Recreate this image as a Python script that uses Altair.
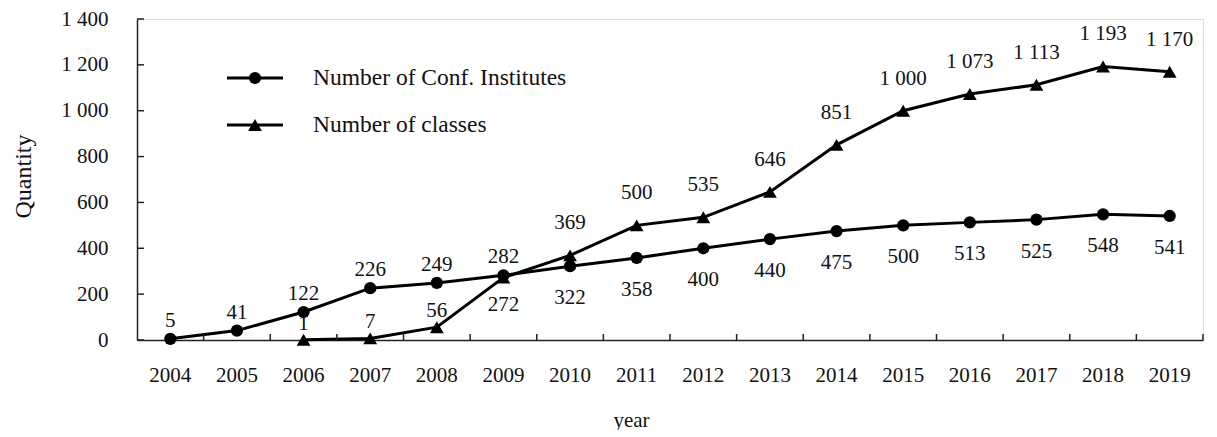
import altair as alt
import pandas as pd

years = [str(y) for y in range(2004, 2020)]
institutes = [5, 41, 122, 226, 249, 282, 322, 358, 400, 440, 475, 500, 513, 525, 548, 541]
class_years = [str(y) for y in range(2006, 2020)]
classes = [1, 7, 56, 272, 369, 500, 535, 646, 851, 1000, 1073, 1113, 1193, 1170]
series_names = ["Number of Conf. Institutes", "Number of classes"]
y_ticks = [0, 200, 400, 600, 800, 1000, 1200, 1400]

rows = [{"year": y, "series": series_names[0], "value": v} for y, v in zip(years, institutes)]
rows += [{"year": y, "series": series_names[1], "value": v} for y, v in zip(class_years, classes)]
df = pd.DataFrame(rows)
df["yr"] = df["year"].astype(int)

FONT = "Liberation Serif"
FS = 21
W, H = 1066, 321

xscale = alt.Scale(type="band", domain=years, paddingInner=0, paddingOuter=0)
yscale = alt.Scale(domain=[0, 1400], nice=False, zero=True)

x_axis = alt.Axis(title="year", ticks=False, grid=False, labelAngle=0, labelPadding=24,
                  labelFont=FONT, labelFontSize=FS, labelColor="#111",
                  domainColor="#222", domainWidth=1.5,
                  titleFont=FONT, titleFontSize=FS, titleFontWeight="normal", titleColor="#111",
                  titleX=494, titleY=80, titleBaseline="middle")
y_axis = alt.Axis(values=y_ticks, title="Quantity", ticks=False, grid=False, labelPadding=29,
                  labelExpr="replace(format(datum.value, ','), ',', ' ')",
                  labelFont=FONT, labelFontSize=FS, labelColor="#111",
                  domainColor="#222", domainWidth=1.5,
                  titleFont=FONT, titleFontSize=24, titleFontWeight="normal", titleColor="#111",
                  titleX=-114, titleY=157, titleBaseline="middle")

x_main = alt.X("year:O", scale=xscale, bandPosition=0.5, axis=x_axis)
x_plain = alt.X("year:O", scale=xscale, bandPosition=0.5)
y_main = alt.Y("value:Q", scale=yscale, axis=y_axis)
y_plain = alt.Y("value:Q", scale=yscale)

base = alt.Chart(df)

lines = base.mark_line(color="black", strokeWidth=3).encode(x=x_main, y=y_main, detail="series:N")

points = base.mark_point(filled=True, opacity=1, color="black").encode(
    x=x_plain, y=y_plain,
    shape=alt.Shape("series:N", scale=alt.Scale(domain=series_names, range=["circle", "triangle-up"]), legend=None),
    size=alt.Size("series:N", scale=alt.Scale(domain=series_names, range=[150, 190]), legend=None),
)

lab = base.transform_calculate(label="replace(format(datum.value, ','), ',', ' ')")


def labels(filter_expr, dy):
    return lab.transform_filter(filter_expr).mark_text(
        font=FONT, fontSize=FS, color="#111", dy=dy, baseline="middle"
    ).encode(x=x_plain, y=y_plain, text="label:N")


s0, s1 = series_names
lab_layers = [
    labels(f"datum.series == '{s0}' && datum.yr <= 2009", -18),
    labels(f"datum.series == '{s0}' && datum.yr >= 2010", 32),
    labels(f"datum.series == '{s1}' && datum.yr <= 2008", -16),
    labels(f"datum.series == '{s1}' && datum.yr == 2009", 27),
    labels(f"datum.series == '{s1}' && datum.yr >= 2010", -32),
]

# inward tick marks
xtick_df = pd.DataFrame({"year": years})
xticks = alt.Chart(xtick_df).mark_rule(color="#222", strokeWidth=1.5).encode(
    x=alt.X("year:O", scale=xscale, bandPosition=1), y=alt.value(H), y2=alt.value(H - 6)
)
ytick_df = pd.DataFrame({"value": y_ticks})
yticks = alt.Chart(ytick_df).mark_rule(color="#222", strokeWidth=1.5).encode(
    y=y_plain, x=alt.value(0), x2=alt.value(7)
)

# legend
legend_layers = []
shapes = ["circle", "triangle-up"]
sizes = [150, 190]
for i, name in enumerate(series_names):
    ly = 59 + 47 * i
    ldf = pd.DataFrame({"series": [name]})
    legend_layers.append(alt.Chart(ldf).mark_rule(color="black", strokeWidth=3).encode(
        x=alt.value(90), x2=alt.value(146), y=alt.value(ly)))
    legend_layers.append(alt.Chart(ldf).mark_point(filled=True, opacity=1, color="black",
                                                   shape=shapes[i], size=sizes[i]).encode(
        x=alt.value(118), y=alt.value(ly)))
    legend_layers.append(alt.Chart(ldf).mark_text(font=FONT, fontSize=23.5, color="#111",
                                                  align="left", baseline="middle").encode(
        x=alt.value(176), y=alt.value(ly), text="series:N"))

chart = alt.layer(lines, points, *lab_layers, xticks, yticks, *legend_layers).properties(
    width=W, height=H,
    padding={"left": 129, "top": 11, "right": 6, "bottom": 90},
    autosize=alt.AutoSizeParams(type="none"),
).configure_view(stroke=None).configure(background="white")

chart.save("out.html", embed_options={"renderer": "svg", "actions": False})
